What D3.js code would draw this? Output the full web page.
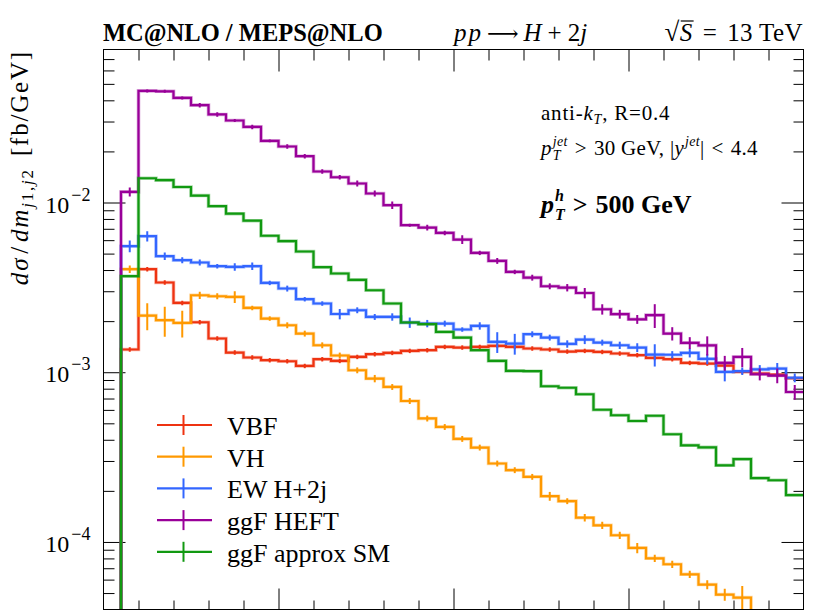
<!DOCTYPE html>
<html>
<head>
<meta charset="utf-8">
<script src="https://cdn.jsdelivr.net/npm/d3@7/dist/d3.min.js"></script>
<style>
  body { margin: 0; background: white; }
  svg { display: block; }
  text { font-family: "Liberation Serif", "DejaVu Serif", serif; fill: #000; white-space: pre; }
</style>
</head>
<body>
<div id="viz"></div>
<script>
// bin low edges (GeV), each bin is 50 GeV wide
const binLo = [50, 100, 150, 200, 250, 300, 350, 400, 450, 500,
               550, 600, 650, 700, 750, 800, 850, 900, 950, 1000,
               1050, 1100, 1150, 1200, 1250, 1300, 1350, 1400, 1450, 1500,
               1550, 1600, 1650, 1700, 1750, 1800, 1850, 1900, 1950];
const binWidth = 50;

const seriesNames = ["VBF", "VH", "EW H+2j", "ggF HEFT", "ggF approx SM"];

// dsigma/dm_j1j2 [fb/GeV]
const vbf = [0.001361, 0.004046, 0.003378, 0.002561, 0.001970, 0.001580, 0.001306, 0.001221, 0.001177, 0.001161,
             0.001089, 0.001193, 0.001166, 0.001231, 0.001277, 0.001300, 0.001336, 0.001348, 0.001410, 0.001398,
             0.001410, 0.001429, 0.001410, 0.001380, 0.001361, 0.001324, 0.001336, 0.001317, 0.001289, 0.001260,
             0.001214, 0.001193, 0.001135, 0.001125, 0.001095, 0.001004, 0.000982, 0.000967, 0.000922];
const vh = [0.004046, 0.002158, 0.002025, 0.001952, 0.002842, 0.002804, 0.002777, 0.002393, 0.002072, 0.001892,
            0.001690, 0.001442, 0.001255, 0.001027, 0.000918, 0.000819, 0.000677, 0.000534, 0.000476, 0.000405,
            0.000360, 0.000290, 0.000265, 0.000242, 0.000186, 0.000174, 0.000139, 0.0001254, 0.0001095, 0.0000922,
            0.0000801, 0.0000739, 0.0000645, 0.0000561, 0.0000490, 0.0000470, 0.0000360, 0.0000330, 0.0000300];
const ew = [0.005528, 0.006329, 0.004827, 0.004571, 0.004431, 0.004214, 0.004174, 0.004214, 0.003360, 0.003113,
            0.002693, 0.002540, 0.002203, 0.002319, 0.002118, 0.002118, 0.001963, 0.001936, 0.001936, 0.001785,
            0.001875, 0.001510, 0.001476, 0.001675, 0.001601, 0.001468, 0.001558, 0.001496, 0.001442, 0.001398,
            0.001271, 0.001268, 0.001300, 0.001198, 0.001004, 0.001014, 0.001039, 0.001051, 0.000928];
const heft = [0.01155, 0.04545, 0.0452, 0.04133, 0.03745, 0.03301, 0.03042, 0.02789, 0.02307, 0.02138,
              0.01874, 0.01523, 0.01409, 0.01294, 0.01130, 0.00964, 0.00735, 0.00712, 0.00662, 0.00605,
              0.00505, 0.00453, 0.00390, 0.00361, 0.00321, 0.00315, 0.00293, 0.00235, 0.00220, 0.00205,
              0.00217, 0.00169, 0.00149, 0.00144, 0.001135, 0.00123, 0.000973, 0.000956, 0.000765];
const ggfSM = [0.003679, 0.01390, 0.01354, 0.01234, 0.01099, 0.00951, 0.00859, 0.00781, 0.00637, 0.00592,
               0.005145, 0.004157, 0.003817, 0.003500, 0.003042, 0.002540, 0.001963, 0.001918, 0.001727, 0.001601,
               0.001348, 0.001166, 0.001018, 0.001014, 0.000827, 0.000810, 0.000742, 0.000601, 0.000558, 0.000516,
               0.000554, 0.000431, 0.000371, 0.000361, 0.000283, 0.000308, 0.000238, 0.000231, 0.000189];

// relative statistical uncertainties
const vbfErr = [0.03, 0.03, 0.03, 0.03, 0.03, 0.03, 0.03, 0.03, 0.03, 0.03,
                0.03, 0.03, 0.03, 0.03, 0.03, 0.03, 0.03, 0.03, 0.03, 0.03,
                0.03, 0.03, 0.03, 0.03, 0.03, 0.03, 0.03, 0.03, 0.03, 0.03,
                0.03, 0.03, 0.03, 0.03, 0.03, 0.03, 0.03, 0.03, 0.03];
const vhErr = [0.05, 0.18, 0.20, 0.18, 0.05, 0.04, 0.08, 0.03, 0.03, 0.04,
               0.04, 0.04, 0.04, 0.04, 0.05, 0.04, 0.04, 0.04, 0.04, 0.04,
               0.04, 0.04, 0.04, 0.04, 0.06, 0.04, 0.05, 0.05, 0.05, 0.07,
               0.05, 0.05, 0.05, 0.06, 0.08, 0.17, 0.10, 0.10, 0.10];
const ewErr = [0.08, 0.07, 0.05, 0.04, 0.04, 0.03, 0.05, 0.05, 0.03, 0.04,
               0.03, 0.03, 0.07, 0.04, 0.04, 0.05, 0.07, 0.05, 0.04, 0.03,
               0.05, 0.14, 0.14, 0.04, 0.04, 0.05, 0.06, 0.04, 0.05, 0.06,
               0.15, 0.05, 0.06, 0.07, 0.12, 0.05, 0.06, 0.08, 0.06];
const heftErr = [0.06, 0.02, 0.02, 0.02, 0.03, 0.03, 0.02, 0.03, 0.02, 0.03,
                 0.03, 0.03, 0.03, 0.04, 0.04, 0.05, 0.02, 0.04, 0.03, 0.06,
                 0.03, 0.04, 0.03, 0.04, 0.04, 0.05, 0.07, 0.07, 0.06, 0.06,
                 0.16, 0.09, 0.08, 0.13, 0.10, 0.13, 0.08, 0.10, 0.10];
const ggfSMErr = [];

const colors = ["#ee3311", "#ff9900", "#3366ff", "#990099", "#119911"];

const series = [
  {name: seriesNames[0], values: vbf, errs: vbfErr, color: colors[0]},
  {name: seriesNames[1], values: vh, errs: vhErr, color: colors[1]},
  {name: seriesNames[2], values: ew, errs: ewErr, color: colors[2]},
  {name: seriesNames[3], values: heft, errs: heftErr, color: colors[3]},
  {name: seriesNames[4], values: ggfSM, errs: ggfSMErr, color: colors[4]}
];

const W = 830, H = 613;
const margin = {top: 49.5, right: 26.5, bottom: 3.5, left: 103.5};
const width = W - margin.left - margin.right,
      height = H - margin.top - margin.bottom;

const svg = d3.select("#viz").append("svg")
    .attr("width", W)
    .attr("height", H);

const g = svg.append("g")
    .attr("transform", `translate(${margin.left},${margin.top})`);

const x = d3.scaleLinear().domain([0, 2000]).range([0, width]);
const y = d3.scaleLog().domain([4.0e-5, 0.0797]).range([height, 0]);

// clip
svg.append("defs").append("clipPath").attr("id", "clip")
  .append("rect").attr("width", width).attr("height", height);

// x ticks, top and bottom, pointing inward
const minorX = d3.range(100, 2000, 100).filter(d => d % 500 !== 0);
const majorX = [500, 1000, 1500];
function xTicks(axisFn, vals, size, ty) {
  g.append("g").attr("transform", `translate(0,${ty})`)
    .call(axisFn(x).tickValues(vals).tickSize(size).tickFormat(""))
    .call(s => s.select(".domain").remove())
    .call(s => s.selectAll("line").attr("stroke", "#000").attr("stroke-width", 1));
}
xTicks(d3.axisTop, minorX, -11, 0);
xTicks(d3.axisTop, majorX, -22, 0);
xTicks(d3.axisBottom, minorX, -9, height);
xTicks(d3.axisBottom, majorX, -21, height);

// y ticks, left and right
const decades = [1e-4, 1e-3, 1e-2];
const minorY = [];
[1e-5, 1e-4, 1e-3, 1e-2].forEach(dec => {
  for (let k = 2; k <= 9; k++) {
    const v = k * dec;
    if (v > y.domain()[0] && v < y.domain()[1]) minorY.push(v);
  }
});
function yTicks(axisFn, vals, size, tx) {
  g.append("g").attr("transform", `translate(${tx},0)`)
    .call(axisFn(y).tickValues(vals).tickSize(size).tickFormat(""))
    .call(s => s.select(".domain").remove())
    .call(s => s.selectAll("line").attr("stroke", "#000").attr("stroke-width", 1));
}
yTicks(d3.axisLeft, minorY, -11, 0);
yTicks(d3.axisLeft, decades, -22, 0);
yTicks(d3.axisRight, minorY, -10, width);
yTicks(d3.axisRight, decades, -22, width);

// y tick labels 10^n
decades.forEach(d => {
  const t = g.append("text")
    .attr("x", -13)
    .attr("y", y(d) + 10)
    .attr("text-anchor", "end")
    .style("font-size", "24px");
  t.append("tspan").text("10");
  t.append("tspan").attr("dy", -12).attr("dx", 2).style("font-size", "18px")
    .text("\u2212" + (-Math.log10(d)).toFixed(0));
});

// histograms
const plot = g.append("g").attr("clip-path", "url(#clip)");
series.forEach(s => {
  const pts = [];
  pts.push([x(binLo[0]), height + 5]);
  s.values.forEach((v, i) => {
    const yy = Math.min(y(v), height + 5);
    pts.push([x(binLo[i]), yy]);
    pts.push([x(binLo[i] + binWidth), yy]);
  });
  plot.append("path")
    .attr("d", d3.line()(pts))
    .attr("fill", "none")
    .attr("stroke", s.color)
    .attr("stroke-opacity", 0.35)
    .attr("stroke-width", 3.6);
  plot.append("path")
    .attr("d", d3.line()(pts))
    .attr("fill", "none")
    .attr("stroke", s.color)
    .attr("stroke-width", 2.2);
  plot.selectAll(null)
    .data(s.errs.map((e, i) => ({e: e, v: s.values[i], c: binLo[i] + binWidth / 2})))
    .join("line")
      .attr("x1", d => x(d.c))
      .attr("x2", d => x(d.c))
      .attr("y1", d => y(d.v * (1 - d.e)))
      .attr("y2", d => y(d.v * (1 + d.e)))
      .attr("stroke", s.color)
      .attr("stroke-width", 2);
});

// frame
g.append("rect")
  .attr("width", width).attr("height", height)
  .attr("fill", "none").attr("stroke", "#000").attr("stroke-width", 1);

// rich text helper: parts placed one after another
// gap: extra space before the part; stack: share x start with the previous part
function mathText(parent, x0, y0, parts, anchor, ls) {
  const grp = parent.append("g");
  let cur = 0, prevStart = 0, prevEnd = 0;
  parts.forEach(p => {
    const t = grp.append("text")
      .attr("y", y0 + (p.dy || 0))
      .style("font-size", p.s + "px")
      .style("font-style", p.it ? "italic" : "normal")
      .style("font-weight", p.b ? "bold" : "normal")
      .style("letter-spacing", (ls || 0) + "px")
      .text(p.t);
    const start = p.stack ? prevStart + (p.gap || 0) : cur + (p.gap || 0);
    t.attr("x", start);
    const w = t.node().getComputedTextLength();
    if (p.stack) {
      cur = Math.max(prevEnd, start + w);
    } else {
      prevStart = start;
      prevEnd = start + w;
      cur = start + w;
    }
    if (p.over) {
      grp.append("line")
        .attr("x1", start + 1).attr("x2", start + w + 1)
        .attr("y1", y0 + (p.dy || 0) - p.s * 0.8)
        .attr("y2", y0 + (p.dy || 0) - p.s * 0.8)
        .attr("stroke", "#000").attr("stroke-width", 1.2);
    }
  });
  const shift = anchor === "end" ? x0 - cur : x0;
  grp.attr("transform", `translate(${shift},0)`);
  return grp;
}

// header
svg.append("text")
  .attr("x", 103).attr("y", 41)
  .style("font-size", "24.5px").style("font-weight", "bold")
  .text("MC@NLO / MEPS@NLO");

mathText(svg, 454, 41, [
  {t: "p", s: 25, it: true},
  {t: "p", s: 25, it: true, gap: 2},
  {t: "\u27F6", s: 22, gap: 6},
  {t: "H", s: 25, it: true, gap: 5},
  {t: "+", s: 25, gap: 6},
  {t: "2", s: 25, gap: 6},
  {t: "j", s: 25, it: true}
]);

mathText(svg, 803, 41, [
  {t: "\u221A", s: 27},
  {t: "S", s: 25, it: true, over: true},
  {t: "=", s: 25, gap: 10},
  {t: "13 TeV", s: 25, gap: 10}
], "end", 0.4);

// y label
const ylab = svg.append("g").attr("transform", "translate(28,50) rotate(-90)");
mathText(ylab, 0, 0, [
  {t: "d\u03C3", s: 25, it: true},
  {t: "/", s: 25, gap: 3},
  {t: "dm", s: 25, it: true, gap: 3},
  {t: "j", s: 17, it: true, dy: 5},
  {t: "1,", s: 17, dy: 5},
  {t: "j", s: 17, it: true, dy: 5},
  {t: "2", s: 17, dy: 5},
  {t: " [fb/GeV]", s: 25, gap: 4}
], "end", 1.8);

// annotations
mathText(svg, 541, 120, [
  {t: "anti-", s: 21},
  {t: "k", s: 21, it: true},
  {t: "T", s: 14, it: true, dy: 4},
  {t: ", R=0.4", s: 21}
], null, 0.8);
mathText(svg, 541, 155, [
  {t: "p", s: 21, it: true},
  {t: "jet", s: 14, it: true, dy: -9, gap: 1},
  {t: "T", s: 14, it: true, dy: 5, stack: true},
  {t: ">", s: 21, gap: 7},
  {t: "30 GeV, |", s: 21, gap: 7},
  {t: "y", s: 21, it: true},
  {t: "jet", s: 14, it: true, dy: -9, gap: 1},
  {t: "|", s: 21},
  {t: "<", s: 21, gap: 7},
  {t: "4.4", s: 21, gap: 7}
], null, 0.3);
mathText(svg, 541, 213, [
  {t: "p", s: 26, it: true, b: true},
  {t: "h", s: 16, it: true, b: true, dy: -12, gap: 1},
  {t: "T", s: 16, it: true, b: true, dy: 7, stack: true},
  {t: ">", s: 26, b: true, gap: 8},
  {t: "500 GeV", s: 26, b: true, gap: 8}
]);

// legend
const leg = svg.append("g").attr("transform", "translate(157,425)");
series.forEach((s, i) => {
  const row = leg.append("g").attr("transform", `translate(0,${i * 31.7})`);
  row.append("line").attr("x1", 0).attr("x2", 55).attr("y1", 0).attr("y2", 0)
    .attr("stroke", s.color).attr("stroke-width", 2.2);
  row.append("line").attr("x1", 26.5).attr("x2", 26.5).attr("y1", -10).attr("y2", 10)
    .attr("stroke", s.color).attr("stroke-width", 2);
  row.append("text").attr("x", 70).attr("y", 10)
    .style("font-size", "26px").text(s.name);
});
</script>
</body>
</html>
